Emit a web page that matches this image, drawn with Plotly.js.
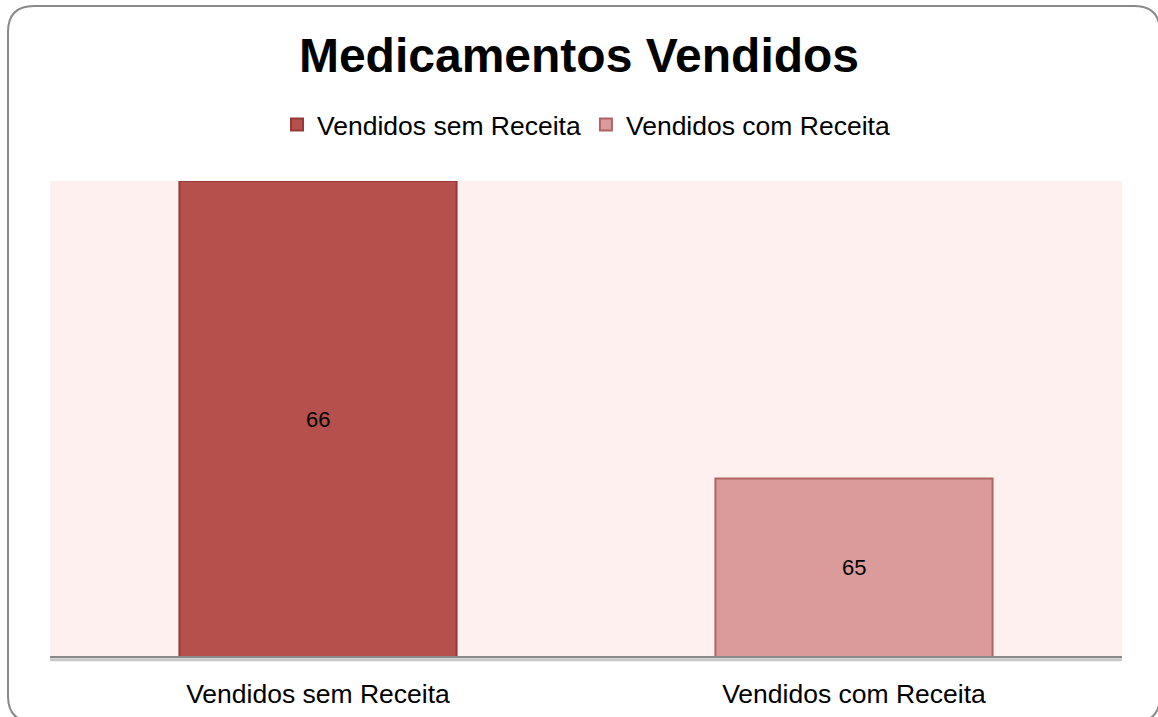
<!DOCTYPE html>
<html><head><meta charset="utf-8">
<script src="https://cdn.plot.ly/plotly-3.0.1.min.js"></script>
<style>html,body{margin:0;padding:0;background:#fff}#chart{width:1158px;height:717px}</style>
</head><body><div id="chart"></div>
<script>
const categories = ["Vendidos sem Receita", "Vendidos com Receita"];
const seriesNames = ["Vendidos sem Receita", "Vendidos com Receita"];
const values = [66, 65];
const fills = ["#b5504d", "#db9b9b"];
const borders = ["#963a37", "#b06564"];
const yRange = [64.4, 66];

const traces = seriesNames.map((name, i) => ({
  type: "bar",
  name: name,
  x: [categories[i]],
  y: [values[i]],
  marker: {color: fills[i], line: {color: borders[i], width: 2}},
  width: 0.517,
  hoverinfo: "skip"
}));

const annotations = categories.map((c, i) => ({
  x: c, y: (values[i] + yRange[0]) / 2, xref: "x", yref: "y",
  text: String(values[i]), showarrow: false,
  font: {family: "Liberation Sans, Arial", size: 22, color: "#000"}
}));

const layout = {
  width: 1158, height: 717,
  margin: {l: 50, r: 36, t: 181, b: 60},
  paper_bgcolor: "#ffffff",
  plot_bgcolor: "#fff0f0",
  font: {family: "Liberation Sans, Arial", color: "#000"},
  title: {text: "<b>Medicamentos Vendidos</b>", font: {size: 48, color: "#000", family: "Liberation Sans, Arial"}, x: 0.5, xanchor: "center", y: 0.923, yanchor: "middle"},
  barmode: "overlay",
  showlegend: true,
  legend: {orientation: "h", x: 0.5, xanchor: "center", y: 1.118, yanchor: "middle", font: {size: 26.5, color: "#000"}, itemwidth: 30, traceorder: "normal", tracegroupgap: 0},
  annotations: annotations,
  xaxis: {type: "category", categoryarray: categories, showgrid: false, zeroline: false, showline: false, ticks: "", ticklabelstandoff: 18, tickfont: {size: 26.5, color: "#000"}, fixedrange: true},
  yaxis: {range: yRange, showgrid: false, zeroline: false, showline: false, showticklabels: false, ticks: "", fixedrange: true},
  shapes: [
    {type: "line", xref: "paper", yref: "paper", x0: 0, x1: 1, y0: -0.006, y1: -0.006, line: {color: "#c8c8c8", width: 3}},
    {type: "line", xref: "paper", yref: "paper", x0: 0, x1: 1, y0: 0, y1: 0, line: {color: "#8a8a8a", width: 2}},
    {type: "path", xref: "paper", yref: "paper", layer: "above", path: "", line: {color: "#8a8a8a", width: 2}}
  ]
};
(function(){
  const W = 1158 - 50 - 36, H = 717 - 181 - 60;
  const px = x => (x - 50) / W, py = y => (717 - 60 - y) / H;
  const r = 26, L = 8, T = 6, R = 1160, B = 722;
  layout.shapes[2].path =
    `M${px(L)},${py(T + r)} Q${px(L)},${py(T)} ${px(L + r)},${py(T)} ` +
    `L${px(R - r)},${py(T)} Q${px(R)},${py(T)} ${px(R)},${py(T + r)} ` +
    `L${px(R)},${py(B - r)} Q${px(R)},${py(B)} ${px(R - r)},${py(B)} ` +
    `L${px(L + r)},${py(B)} Q${px(L)},${py(B)} ${px(L)},${py(B - r)} Z`;
})();
Plotly.newPlot("chart", traces, layout, {displayModeBar: false, staticPlot: true});
</script></body></html>
